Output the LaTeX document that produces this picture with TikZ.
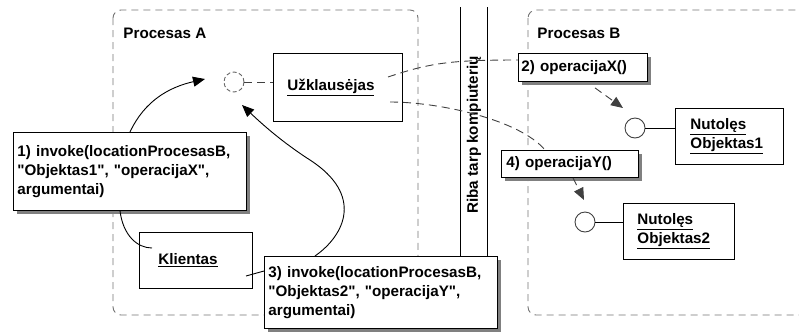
\documentclass[tikz,border=0pt]{standalone}
\usepackage{fontspec}
\setmainfont{Liberation Sans}[Ligatures=TeXOff]
\usetikzlibrary{arrows.meta,shadows,calc}

\begin{document}
\begin{tikzpicture}[x=1pt,y=-1pt,line width=0.9pt,
  font=\fontsize{15.2}{19}\selectfont\bfseries,
  obj/.style={draw=black,fill=white,anchor=north west,inner ysep=0pt,align=left},
  note/.style={obj,drop shadow={shadow xshift=4pt,shadow yshift=-4pt,fill=black!50,opacity=1}},
  region/.style={draw=black!55,dash pattern=on 7pt off 5pt,rounded corners=8pt},
  link/.style={draw=black!75,dash pattern=on 8pt off 5pt},
  tip/.style={-{Triangle[length=12pt,width=10pt]}},
  port/.style={circle,draw=black!75,fill=white,minimum size=20pt,inner sep=0pt},
  title/.style={anchor=west,inner sep=0pt}]

\useasboundingbox (0,0) rectangle (799,333);

% process regions
\draw[region] (113,10) rectangle (418,315);
\draw[region] (528,10) rectangle (870,315);
\node[title] (pa) at (123,33) {Procesas A};
\node[title] (pb) at (537,33) {Procesas B};

% boundary between the computers
\draw (460,7) -- (460,256);
\draw (487,7) -- (487,256);
\node[rotate=90,inner sep=0pt] (band) at (474,135) {Riba tarp kompiuterių};

% objects
\node[obj,minimum width=129pt,minimum height=68pt,inner xsep=14pt,text width=101pt] (uzk) at (273,53) {\underline{Užklausėjas}};
\node[obj,minimum width=113pt,minimum height=56pt,inner xsep=19pt,text width=75pt] (kli) at (139,232) {\underline{Klientas}};
\node[obj,minimum width=108pt,minimum height=56pt,inner xsep=15pt,text width=78pt] (no1) at (675,108) {\underline{Nutolęs}\\\underline{Objektas1}};
\node[obj,minimum width=111pt,minimum height=56pt,inner xsep=14pt,text width=83pt] (no2) at (623,203) {\underline{Nutolęs}\\\underline{Objektas2}};

% call notes
\node[note,minimum width=233pt,minimum height=78pt,inner xsep=4pt,text width=225pt] (b1) at (13,132)
  {1) invoke(locationProcesasB,\\"Objektas1", "operacijaX",\\argumentai)};
\node[note,minimum width=233pt,minimum height=72pt,inner xsep=4pt,text width=225pt] (b3) at (264,256)
  {3) invoke(locationProcesasB,\\"Objektas2", "operacijaY",\\argumentai)};
\node[note,minimum width=129pt,minimum height=28pt,inner xsep=3pt,text width=123pt] (b2) at (518,53) {2) operacijaX()};
\node[note,minimum width=137pt,minimum height=27pt,inner xsep=5pt,text width=127pt] (b4) at (501,150) {4) operacijaY()};

% interfaces
\node[port,draw=black!60,dash pattern=on 4pt off 2.5pt] (c0) at (234,82) {};
\node[port] (c1) at (635,128) {};
\node[port] (c2) at (585,222) {};

\coordinate (t1) at (205,79);
\coordinate (t3) at (242,105);
\coordinate (t2) at (623,108);
\coordinate (t4) at (584,200);

% connectors
\draw[link] (c0.east) -- (c0.east -| uzk.west);
\draw (c1.east) -- (c1.east -| no1.west);
\draw (c2.east) -- (c2.east -| no2.west);

\draw[tip] ($(b1.north west)+(117,0)$) .. controls (145,100) and (170,87) .. (t1);
\draw ($(b1.south west)+(107,0)$) .. controls (123,235) and (137,248) .. ($(kli.north west)+(13,16)$);
\draw ($(kli.north west)+(107,44)$) -- ($(b3.north west)+(0,15)$);
\draw[tip] ($(b3.north west)+(51,0)$) .. controls (345,235) and (364,195) .. (310,160)
  .. controls (282,142) and (262,124) .. (t3);

\draw[link] ($(uzk.north west)+(115,24)$) .. controls (430,63) and (450,60) .. ($(b2.north west)+(0,7)$);
\draw[link,tip] ($(b2.south west)+(77,6)$) -- (t2);
\draw[link] ($(uzk.north west)+(117,49)$) .. controls (440,102) and (520,120) .. ($(b4.north west)+(44,0)$);
\draw[link,tip] ($(b4.south west)+(72,0)$) -- (t4);

\end{tikzpicture}
\end{document}
